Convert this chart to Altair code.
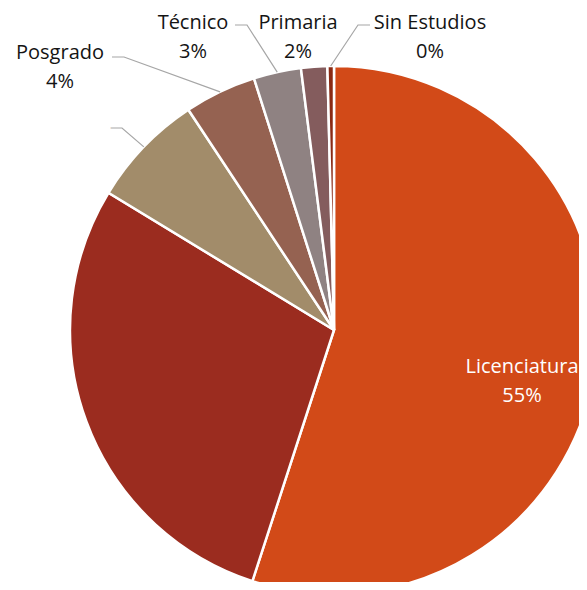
import altair as alt
import pandas as pd
import math

# ---- data ----
categories = ["Licenciatura", "Preparatoria", "Secundaria", "Posgrado", "Técnico", "Primaria", "Sin Estudios"]
shares = [55.0, 28.7, 7.0, 4.4, 2.9, 1.6, 0.4]
pct_labels = ["55%", "29%", "7%", "4%", "3%", "2%", "0%"]
colors = ["#D24A18", "#9B2C1F", "#A28C6A", "#956251", "#8F8282", "#845C5D", "#8A2A14"]

# ---- layout / style (pixel positions inside the plot area; y = first line) ----
CX, CY, R = 326, 322, 264
FONT = "Open Sans"
label_layout = {
    "Licenciatura": dict(x=514, y=359, color="#FFFFFF", leader=None),
    "Secundaria":   dict(x=52,  y=116, color="#FFFFFF", leader=(102, 120, 1)),
    "Posgrado":     dict(x=52,  y=45,  color="#141414", leader=(104, 49, 1)),
    "Técnico":      dict(x=185, y=15,  color="#141414", leader=(227, 17, 1)),
    "Primaria":     dict(x=290, y=15,  color="#141414", leader=None),
    "Sin Estudios": dict(x=422, y=15,  color="#141414", leader=(362, 17, -1)),
}
ELBOW = 12

df = pd.DataFrame({"cat": categories, "share": shares, "pct": pct_labels,
                   "idx": list(range(len(categories)))})

total = sum(shares)
cum = 0.0
mid_angle = {}
for c, s in zip(categories, shares):
    mid_angle[c] = (cum + s / 2) / total * 2 * math.pi
    cum += s

text_rows, line_rows = [], []
for c, p in zip(categories, pct_labels):
    if c not in label_layout:
        continue
    L = label_layout[c]
    text_rows.append(dict(cat=c, x=L["x"], y=L["y"], text=f"{c}\n{p}", tcolor=L["color"]))
    if L["leader"] is not None:
        lx, ly, d = L["leader"]
        a = mid_angle[c]
        ex, ey = CX + R * math.sin(a), CY - R * math.cos(a)
        for k, (px, py) in enumerate([(lx, ly), (lx + d * ELBOW, ly), (ex, ey)]):
            line_rows.append(dict(id=c, pt=k, x=px, y=py))

tdf = pd.DataFrame(text_rows)
ldf = pd.DataFrame(line_rows)

arcs = alt.Chart(df).mark_arc(radius=R, stroke="white", strokeWidth=2.5).encode(
    theta=alt.Theta("share:Q", stack=True),
    color=alt.Color("cat:N", scale=alt.Scale(domain=categories, range=colors), legend=None),
    order=alt.Order("idx:Q"),
    x=alt.value(CX),
    y=alt.value(CY),
)

leaders = alt.Chart(ldf).mark_line(color="#A6A6A6", strokeWidth=1.2).encode(
    x=alt.X("x:Q", scale=None, axis=None),
    y=alt.Y("y:Q", scale=None, axis=None),
    detail="id:N",
    order="pt:Q",
)

labels = alt.Chart(tdf).mark_text(
    lineBreak="\n", font=FONT, fontSize=20, lineHeight=29, align="center", baseline="middle"
).encode(
    x=alt.X("x:Q", scale=None, axis=None),
    y=alt.Y("y:Q", scale=None, axis=None),
    text="text:N",
    color=alt.Color("tcolor:N", scale=None),
)

chart = alt.layer(arcs, leaders, labels).properties(
    width=571, height=574, autosize="none", padding=0, background="white"
).configure_view(stroke=None)

chart.save("out.html", embed_options={"renderer": "svg", "actions": False})
